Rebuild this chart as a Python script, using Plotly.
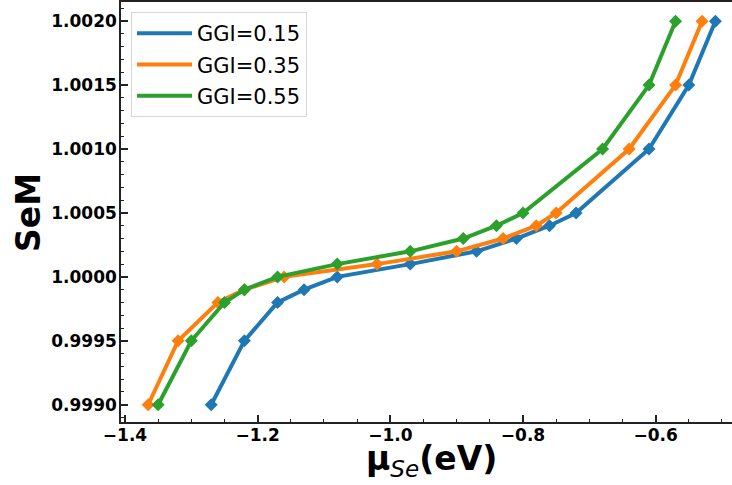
import plotly.graph_objects as go

# Data
sem_values = [0.9990, 0.9995, 0.9998, 0.9999, 1.0000, 1.0001, 1.0002,
              1.0003, 1.0004, 1.0005, 1.0010, 1.0015, 1.0020]
mu_ggi_015 = [-1.27, -1.22, -1.17, -1.13, -1.08, -0.97, -0.87,
              -0.81, -0.76, -0.72, -0.61, -0.55, -0.51]
mu_ggi_035 = [-1.365, -1.32, -1.26, -1.22, -1.16, -1.02, -0.90,
              -0.83, -0.78, -0.75, -0.64, -0.57, -0.53]
mu_ggi_055 = [-1.35, -1.30, -1.25, -1.22, -1.17, -1.08, -0.97,
              -0.89, -0.84, -0.80, -0.68, -0.61, -0.57]
series_names = ["GGI=0.15", "GGI=0.35", "GGI=0.55"]
series_x = [mu_ggi_015, mu_ggi_035, mu_ggi_055]
colors = ["#1f77b4", "#ff7f0e", "#2ca02c"]

FONT = "DejaVu Sans"
W, H = 732, 485
ML, MR, MT, MB = 121, 0, 2, 63

fig = go.Figure()
for i, (name, xs, c) in enumerate(zip(series_names, series_x, colors)):
    fig.add_trace(go.Scatter(x=xs, y=sem_values, mode="lines", name=name,
                             legendgroup=f"g{i}",
                             line=dict(color=c, width=4), showlegend=True))
    fig.add_trace(go.Scatter(x=xs, y=sem_values, mode="markers", name=name,
                             legendgroup=f"g{i}",
                             marker=dict(color=c, symbol="diamond", size=10),
                             showlegend=False, hoverinfo="skip"))

axis_line = "#222222"
fig.update_xaxes(range=[-1.406, -0.4849], dtick=0.2, tick0=-1.4,
                 tickformat=".1f", ticks="inside", ticklen=7, tickwidth=1.5,
                 tickcolor=axis_line, showline=True, linecolor=axis_line,
                 linewidth=1.5, mirror=True, showgrid=False, zeroline=False,
                 ticklabelstandoff=-3,
                 tickfont=dict(family=FONT, size=17, color="black", weight="bold"),
                 minor=dict(dtick=0.05, ticks="inside", ticklen=3.5,
                            tickwidth=1, tickcolor=axis_line, showgrid=False))
fig.update_yaxes(range=[0.998865, 1.00215], dtick=0.0005, tick0=0.999,
                 tickformat=".4f", ticks="inside", ticklen=7, tickwidth=1.5,
                 tickcolor=axis_line, showline=True, linecolor=axis_line,
                 linewidth=1.5, mirror=False, showgrid=False, zeroline=False,
                 ticklabelstandoff=-1,
                 tickfont=dict(family=FONT, size=17, color="black", weight="bold"),
                 minor=dict(dtick=0.0001, ticks="inside", ticklen=3.5,
                            tickwidth=1, tickcolor=axis_line, showgrid=False))

pw = W - ML - MR
ph = H - MT - MB
fig.add_annotation(text="<b>SeM</b>", textangle=-90, xref="paper", yref="paper",
                   x=(28 - ML) / pw, y=1 - (212 - MT) / ph, showarrow=False,
                   font=dict(family=FONT, size=33, color="black"),
                   xanchor="center", yanchor="middle")
fig.add_annotation(text="<b>μ</b><sub><i>Se</i></sub><b>(eV)</b>",
                   xref="paper", yref="paper",
                   x=(431 - ML) / pw, y=1 - (461 - MT) / ph, showarrow=False,
                   font=dict(family=FONT, size=33, color="black"),
                   xanchor="center", yanchor="middle")

fig.update_layout(
    width=W, height=H,
    margin=dict(l=ML, r=MR, t=MT, b=MB, pad=0),
    paper_bgcolor="white", plot_bgcolor="white",
    font=dict(family=FONT, color="black"),
    legend=dict(x=(131 - ML) / pw, y=1 - (12 - MT) / ph,
                xanchor="left", yanchor="top",
                font=dict(family=FONT, size=21, color="black"),
                bgcolor="white", bordercolor="#d6d6d6", borderwidth=1,
                itemwidth=55, tracegroupgap=1),
)

fig.write_html("out.html")
